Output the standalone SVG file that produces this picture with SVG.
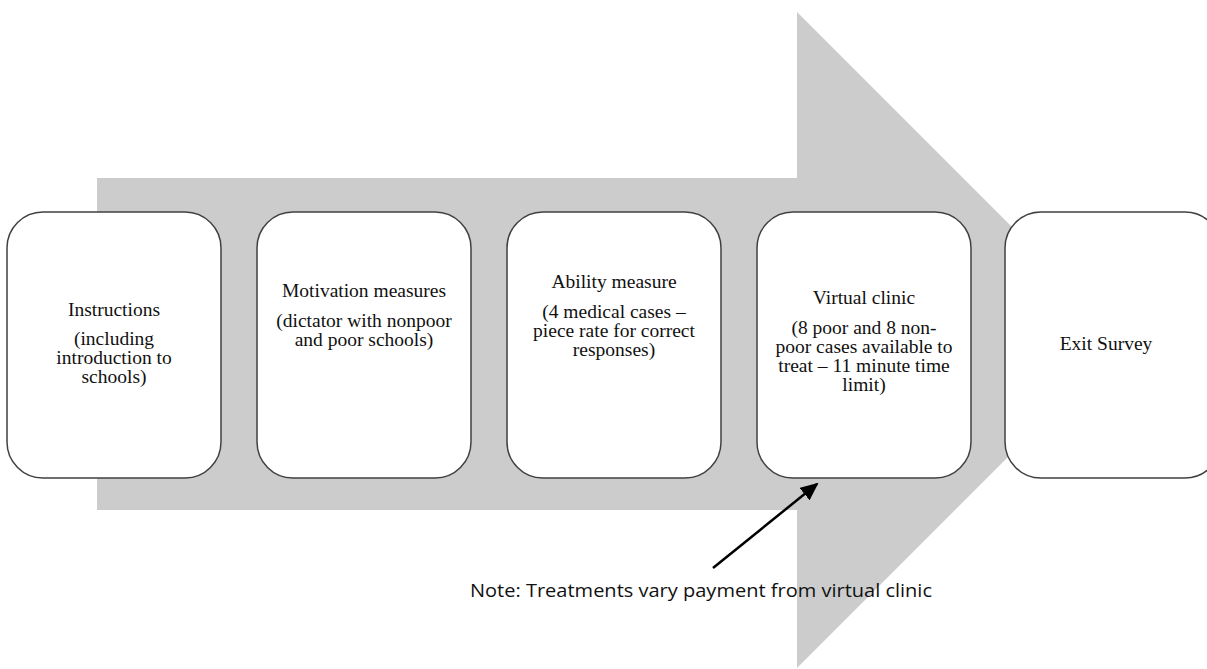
<svg xmlns="http://www.w3.org/2000/svg" width="1207" height="669" viewBox="0 0 1207 669">
<defs>
<style>
.box{fill:#fff;stroke:#404040;stroke-width:1.5}
.t{font-family:"Liberation Serif","Times New Roman",serif;font-size:19.5px;fill:#111;text-anchor:middle}
.note{font-family:"Open Sans","Liberation Sans",sans-serif;font-size:19px;fill:#111}
</style>
<marker id="ah" markerWidth="18" markerHeight="16" refX="16" refY="8" orient="auto" markerUnits="userSpaceOnUse" viewBox="0 0 18 16">
<path d="M0,0 L18,8 L0,16 z" fill="#000"/>
</marker>
</defs>
<rect width="1207" height="669" fill="#fff"/>
<polygon id="bigarrow" points="97,178 797,178 797,12 1125,340 797,668 797,510 97,510" fill="#cccccc"/>
<g id="n1"><rect class="box" x="7" y="212" width="214" height="266" rx="36" ry="36"/>
<text class="t" x="114" y="316">Instructions</text>
<text class="t" x="114" y="345">(including</text>
<text class="t" x="114" y="364">introduction to</text>
<text class="t" x="114" y="383">schools)</text></g>
<g id="n2"><rect class="box" x="257" y="212" width="214" height="266" rx="36" ry="36"/>
<text class="t" x="364" y="297">Motivation measures</text>
<text class="t" x="364" y="327">(dictator with nonpoor</text>
<text class="t" x="364" y="346">and poor schools)</text></g>
<g id="n3"><rect class="box" x="507" y="212" width="214" height="266" rx="36" ry="36"/>
<text class="t" x="614" y="288">Ability measure</text>
<text class="t" x="614" y="318">(4 medical cases –</text>
<text class="t" x="614" y="337">piece rate for correct</text>
<text class="t" x="614" y="356">responses)</text></g>
<g id="n4"><rect class="box" x="757" y="212" width="214" height="266" rx="36" ry="36"/>
<text class="t" x="864" y="304">Virtual clinic</text>
<text class="t" x="864" y="334">(8 poor and 8 non-</text>
<text class="t" x="864" y="353">poor cases available to</text>
<text class="t" x="864" y="372">treat – 11 minute time</text>
<text class="t" x="864" y="391">limit)</text></g>
<g id="n5"><rect class="box" x="1005" y="212" width="216" height="266" rx="36" ry="36"/>
<text class="t" x="1106" y="350">Exit Survey</text></g>
<g id="connectors">
<line x1="713" y1="568" x2="817" y2="484" stroke="#000" stroke-width="2.5" marker-end="url(#ah)"/>
</g>
<text class="note" x="470" y="597" textLength="462" lengthAdjust="spacingAndGlyphs">Note: Treatments vary payment from virtual clinic</text>
</svg>
